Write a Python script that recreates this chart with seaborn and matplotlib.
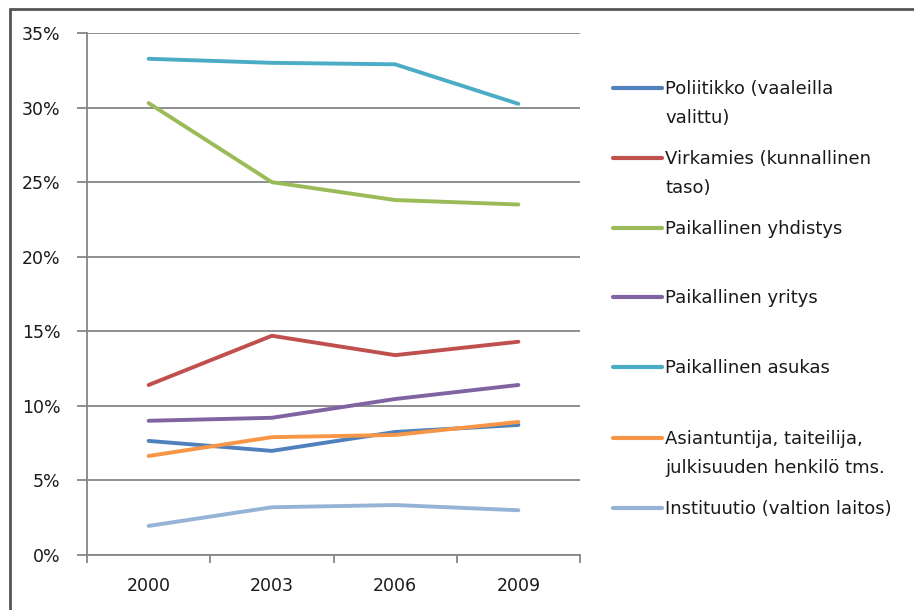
import matplotlib
matplotlib.use("Agg")
import matplotlib.pyplot as plt
from matplotlib.lines import Line2D
import numpy as np
import pandas as pd
import seaborn as sns

# Survey years and share of respondents per actor type
years = ["2000", "2003", "2006", "2009"]

series_names = [
    "Poliitikko (vaaleilla\nvalittu)",
    "Virkamies (kunnallinen\ntaso)",
    "Paikallinen yhdistys",
    "Paikallinen yritys",
    "Paikallinen asukas",
    "Asiantuntija, taiteilija,\njulkisuuden henkilö tms.",
    "Instituutio (valtion laitos)",
]

poliitikko = [0.0765, 0.0698, 0.0825, 0.0872]
virkamies = [0.114, 0.147, 0.134, 0.143]
yhdistys = [0.303, 0.250, 0.238, 0.235]
yritys = [0.090, 0.092, 0.1046, 0.114]
asukas = [0.3327, 0.330, 0.329, 0.3025]
asiantuntija = [0.0664, 0.079, 0.0805, 0.0892]
instituutio = [0.0195, 0.032, 0.0335, 0.030]

colors = ["#4F81BD", "#C0504D", "#9BBB59", "#8064A2",
          "#4BACC6", "#F79646", "#95B3D7"]

y_ticks = [0.0, 0.05, 0.10, 0.15, 0.20, 0.25, 0.30, 0.35]
y_tick_labels = ["0%", "5%", "10%", "15%", "20%", "25%", "30%", "35%"]

all_values = [poliitikko, virkamies, yhdistys, yritys, asukas,
              asiantuntija, instituutio]

df = pd.DataFrame({
    "year": np.tile(years, len(series_names)),
    "pos": np.tile(np.arange(len(years)), len(series_names)),
    "value": np.concatenate(all_values),
    "series": np.repeat(series_names, len(years)),
})

sns.set_theme(style="white")
plt.rcParams["font.family"] = ["DejaVu Sans"]

W, H = 914, 610
fig = plt.figure(figsize=(W / 100, H / 100), dpi=100)
ax = fig.add_axes([87 / W, 1 - 555 / H, (580 - 87) / W, (555 - 33) / H])

grid_col = "#868686"
text_col = "#1a1a1a"

sns.lineplot(data=df, x="pos", y="value", hue="series",
             hue_order=series_names, palette=colors, linewidth=2.8,
             sort=False, estimator=None, legend=False, ax=ax,
             solid_capstyle="round")

ax.set_xlim(-0.5, len(years) - 0.5)
ax.set_ylim(0, 0.35)

# Horizontal gridlines
for yv in y_ticks:
    ax.axhline(yv, color=grid_col, lw=1.3, zorder=0)

ax.set_yticks(y_ticks)
ax.set_yticklabels(y_tick_labels)
ax.set_xticks(np.arange(len(years)))
ax.set_xticklabels(years)
ax.set_xticks(np.arange(len(years) + 1) - 0.5, minor=True)
ax.tick_params(axis="x", which="major", length=0, pad=16, labelsize=12.5,
               labelcolor=text_col)
ax.tick_params(axis="x", which="minor", length=6, width=1.3, color=grid_col,
               direction="out", bottom=True)
ax.tick_params(axis="y", which="major", length=7, width=1.3, color=grid_col,
               pad=12, labelsize=12.5, labelcolor=text_col, left=True)
ax.set_xlabel("")
ax.set_ylabel("")
for side in ["top", "right"]:
    ax.spines[side].set_visible(False)
for side in ["left", "bottom"]:
    ax.spines[side].set_color(grid_col)
    ax.spines[side].set_linewidth(1.3)

# Legend built from the plotted lines
legend_y = [88, 158, 228, 297, 367, 438, 508]
for line, name, yc in zip(ax.get_lines(), series_names, legend_y):
    yf = 1 - yc / H
    fig.add_artist(Line2D([613 / W, 662 / W], [yf, yf],
                          color=line.get_color(), lw=3.0,
                          transform=fig.transFigure))
    fig.text(665 / W, 1 - (yc - 8) / H, name, fontsize=13,
             color=text_col, va="top", ha="left", linespacing=1.82)

# Chart frame
fig.add_artist(Line2D([10 / W, 10 / W], [0, 1 - 9 / H], color="#555555",
                      lw=2, transform=fig.transFigure))
fig.add_artist(Line2D([10 / W, 1], [1 - 9 / H, 1 - 9 / H], color="#555555",
                      lw=2, transform=fig.transFigure))

fig.savefig("out.png", dpi=100, facecolor="white")
